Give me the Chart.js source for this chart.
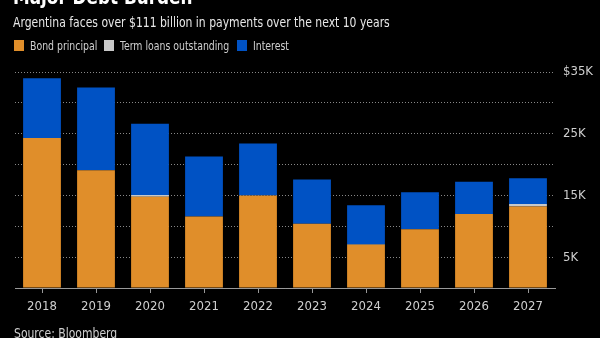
<!DOCTYPE html>
<html>
<head>
<meta charset="utf-8">
<script src="https://cdn.jsdelivr.net/npm/chart.js@4"></script>
<style>
  html, body { margin: 0; padding: 0; background: #000; }
  body { width: 600px; height: 338px; position: relative; overflow: hidden;
         font-family: "DejaVu Sans Condensed", "Liberation Sans Narrow", sans-serif; }
  .txt { position: absolute; white-space: nowrap; transform-origin: 0 0; }
  #title { left: 13px; top: -16px; color: #fff; font-weight: bold; font-size: 22px; transform: scaleX(0.85); }
  #subtitle { left: 13px; top: 14px; color: #e8e8e8; font-size: 14px; transform: scaleX(0.86); }
  #legend { left: 14px; top: 38px; display: flex; color: #cfcfcf; font-size: 13px; }
  .item { display: flex; align-items: center; margin-right: 7px; }
  .box { width: 10px; height: 11px; margin-right: 6px; }
  .lab { display: inline-block; }
  #source { left: 14px; top: 325px; color: #cfcfcf; font-size: 14px; transform: scaleX(0.86); }
  #wrap { position: absolute; left: 0; top: 0; width: 600px; height: 338px; }
</style>
</head>
<body>
<div id="wrap"><canvas id="chart" width="600" height="338"></canvas></div>
<div id="title" class="txt">Major Debt Burden</div>
<div id="subtitle" class="txt">Argentina faces over $111 billion in payments over the next 10 years</div>
<div id="legend" class="txt"></div>
<div id="source" class="txt">Source: Bloomberg</div>
<script>
// Paiements annuels, en millions de dollars
const years = ['2018', '2019', '2020', '2021', '2022', '2023', '2024', '2025', '2026', '2027'];
const bondPrincipal = [24300, 19100, 14800, 11600, 15000, 10400, 7000, 9500, 12000, 13200];
const termLoans = [0, 0, 250, 0, 0, 0, 100, 0, 0, 400];
const interest = [9700, 13400, 11550, 9700, 8400, 7200, 6300, 6000, 5200, 4200];
const yTicks = [5000, 15000, 25000, 35000];

const series = [
  { label: 'Bond principal', data: bondPrincipal, color: '#e08e2a' },
  { label: 'Term loans outstanding', data: termLoans, color: '#c8c8c8' },
  { label: 'Interest', data: interest, color: '#0052c4' },
];

// Légende en HTML (texte resserré pour imiter la police étroite)
const legend = document.getElementById('legend');
series.forEach(s => {
  const item = document.createElement('div');
  item.className = 'item';
  item.innerHTML = '<span class="box" style="background:' + s.color + '"></span><span class="lab">' + s.label + '</span>';
  legend.appendChild(item);
});
legend.querySelectorAll('.lab').forEach(el => {
  const w = el.getBoundingClientRect().width;
  el.style.transform = 'scaleX(0.8)';
  el.style.transformOrigin = '0 0';
  el.style.marginRight = (-w * 0.2) + 'px';
});

const font = '"DejaVu Sans Condensed", "Liberation Sans Narrow", sans-serif';

const ctx = document.getElementById('chart').getContext('2d');
const myChart = new Chart(ctx, {
  type: 'bar',
  data: {
    labels: years,
    datasets: series.map(s => ({
      label: s.label,
      data: s.data,
      backgroundColor: s.color,
      borderWidth: 0,
      barPercentage: 0.7,
      categoryPercentage: 1,
    })),
  },
  options: {
    responsive: false,
    animation: false,
    layout: { padding: { left: 15, right: 0, top: 72, bottom: 20 } },
    plugins: { legend: { display: false }, tooltip: { enabled: false } },
    scales: {
      x: {
        stacked: true,
        afterFit: (scale) => { scale.height = 30; },
        grid: { drawOnChartArea: false, offset: false, tickLength: 5, tickColor: '#999', tickWidth: 1 },
        border: { color: '#999', width: 1 },
        ticks: { color: '#cfcfcf', font: { family: font, size: 13 }, padding: 6, maxRotation: 0, autoSkip: false },
      },
      y: {
        stacked: true,
        position: 'right',
        min: 0,
        max: 35000,
        afterFit: (scale) => { scale.width = 45; },
        grid: { color: '#888', lineWidth: 1, drawTicks: false },
        border: { display: false, dash: [1, 2] },
        ticks: {
          stepSize: 5000,
          color: '#cfcfcf',
          padding: 8,
          font: { family: font, size: 13 },
          callback: (v) => {
            if (!yTicks.includes(v)) return '';
            return (v === 35000 ? '$' : '') + (v / 1000) + 'K';
          },
        },
      },
    },
  },
});
</script>
</body>
</html>
